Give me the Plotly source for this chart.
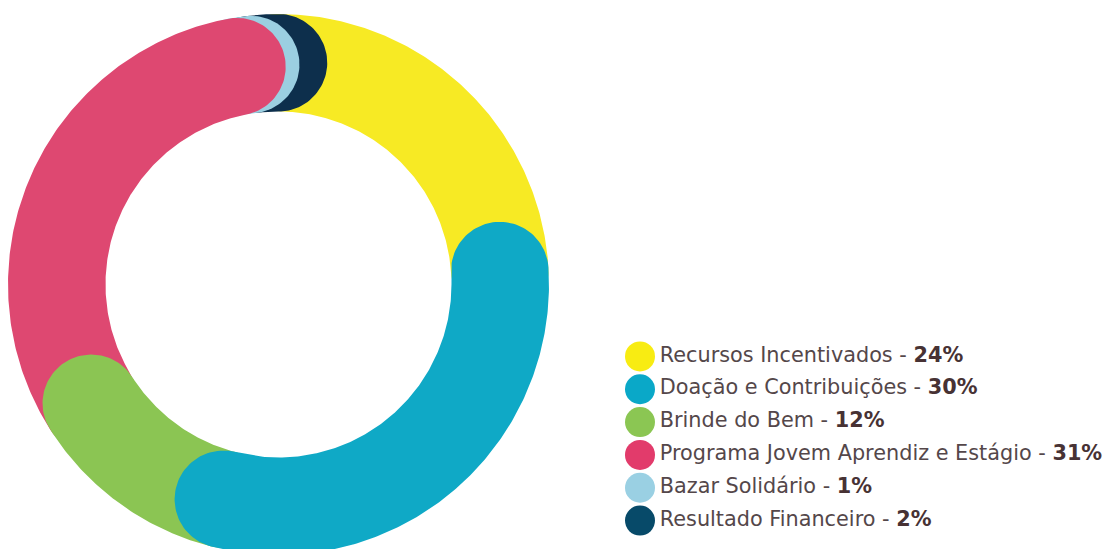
import numpy as np
import plotly.graph_objects as go

categories = ["Recursos Incentivados", "Doação e Contribuições", "Brinde do Bem",
              "Programa Jovem Aprendiz e Estágio", "Bazar Solidário", "Resultado Financeiro"]
values = [24, 30, 12, 31, 1, 2]
ring_colors = ["#f7ea24", "#0fa9c6", "#8bc553", "#de4871", "#9bcfe1", "#0d2f4c"]
legend_colors = ["#f8ec12", "#0aa8c8", "#8bc653", "#e23b6b", "#9ad0e3", "#074a69"]
draw_order = [0, 5, 4, 3, 2, 1]  # bottom to top

R_OUT, R_IN = 270.5, 173.0
R_MID = (R_OUT + R_IN) / 2
H = (R_OUT - R_IN) / 2

total = sum(values)
cum = np.concatenate([[0], np.cumsum(values)]) / total * 2 * np.pi


def seg_path(a0, a1):
    n = max(int((a1 - a0) / 0.01), 2)
    ang = np.linspace(a0, a1, n)
    xs, ys = [], []
    xs += list(R_OUT * np.sin(ang)); ys += list(R_OUT * np.cos(ang))
    phi = np.linspace(0, np.pi, 60)
    c = np.array([R_MID * np.sin(a1), R_MID * np.cos(a1)])
    u = np.array([np.sin(a1), np.cos(a1)]); t = np.array([np.cos(a1), -np.sin(a1)])
    for p in phi:
        pt = c + H * (u * np.cos(p) + t * np.sin(p)); xs.append(pt[0]); ys.append(pt[1])
    xs += list(R_IN * np.sin(ang[::-1])); ys += list(R_IN * np.cos(ang[::-1]))
    c0 = np.array([R_MID * np.sin(a0), R_MID * np.cos(a0)])
    u0 = np.array([np.sin(a0), np.cos(a0)]); t0 = np.array([np.cos(a0), -np.sin(a0)])
    for p in phi:
        pt = c0 + H * (-u0 * np.cos(p) - t0 * np.sin(p)); xs.append(pt[0]); ys.append(pt[1])
    xs.append(xs[0]); ys.append(ys[0])
    return xs, ys


fig = go.Figure()
for i in draw_order:
    xs, ys = seg_path(cum[i], cum[i + 1])
    fig.add_trace(go.Scatter(x=xs, y=ys, mode="lines", fill="toself",
                             fillcolor=ring_colors[i], line=dict(width=0, color=ring_colors[i]),
                             hoverinfo="skip", showlegend=False, xaxis="x", yaxis="y"))

labels = [f"{c} - <b><span style='color:#473234'>{v}%</span></b>" for c, v in zip(categories, values)]
fig.add_trace(go.Scatter(x=[0] * len(categories), y=list(range(len(categories))),
                         mode="markers+text", text=labels, textposition="middle right",
                         marker=dict(size=30, color=legend_colors, line=dict(width=0)),
                         textfont=dict(family="DejaVu Sans", size=20.8, color="#54474a"),
                         cliponaxis=False, showlegend=False, hoverinfo="skip",
                         xaxis="x2", yaxis="y2"))

W, Hh = 1107, 549
cx, cy = 278.5, 284.5
fig.update_layout(
    width=W, height=Hh, margin=dict(l=0, r=0, t=0, b=0),
    paper_bgcolor="white", plot_bgcolor="rgba(0,0,0,0)",
    xaxis=dict(domain=[0, 1], range=[-cx, W - cx], visible=False, fixedrange=True),
    yaxis=dict(domain=[0, 1], range=[cy - Hh, cy], visible=False, fixedrange=True),
    xaxis2=dict(domain=[640 / W, 1], range=[0, 1], visible=False, anchor="y2"),
    yaxis2=dict(domain=[1 - 537 / Hh, 1 - 340 / Hh], range=[5.5, -0.5], visible=False, anchor="x2"),
)
fig.write_html("out.html")
